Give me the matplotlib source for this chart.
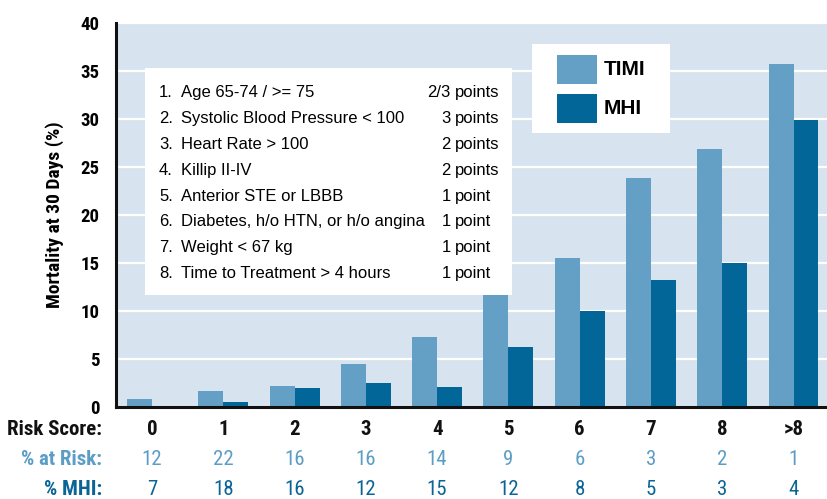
import numpy as np
import matplotlib
matplotlib.use("Agg")
import matplotlib.pyplot as plt
from matplotlib import font_manager
from matplotlib.patches import Rectangle
from matplotlib.transforms import blended_transform_factory

# data
risk_scores = ["0", "1", "2", "3", "4", "5", "6", "7", "8", ">8"]
timi_mortality = [0.8, 1.6, 2.2, 4.4, 7.3, 11.7, 15.5, 23.8, 26.8, 35.7]
mhi_mortality = [0.1, 0.5, 1.9, 2.5, 2.1, 6.2, 10.0, 13.2, 15.0, 29.9]
pct_at_risk = [12, 22, 16, 16, 14, 9, 6, 3, 2, 1]
pct_mhi = [7, 18, 16, 12, 15, 12, 8, 5, 3, 4]

risk_factors = [
    "Age 65-74 / >= 75",
    "Systolic Blood Pressure < 100",
    "Heart Rate > 100",
    "Killip II-IV",
    "Anterior STE or LBBB",
    "Diabetes, h/o HTN, or h/o angina",
    "Weight < 67 kg",
    "Time to Treatment > 4 hours",
]
factor_points = ["2/3", "3", "2", "2", "1", "1", "1", "1"]

TIMI_COLOR = "#64a0c5"
MHI_COLOR = "#036698"
BG = "#d7e3ee"

names = {f.name for f in font_manager.fontManager.ttflist}
NARROW = next((n for n in ["Roboto Condensed", "Archivo Narrow", "PT Sans Narrow",
                           "IBM Plex Sans Condensed", "Liberation Sans Narrow"]
               if n in names), "Liberation Sans")
REG = "Liberation Sans"

fig = plt.figure(figsize=(8.27, 4.99), dpi=100)
ax = fig.add_axes([0.1403, 0.185, 0.8597, 0.7695])
ax.set_facecolor(BG)

x = np.arange(len(risk_scores))
w = 0.35
ax.bar(x - w / 2, timi_mortality, w, color=TIMI_COLOR, zorder=2)
ax.bar(x + w / 2, mhi_mortality, w, color=MHI_COLOR, zorder=2)

ax.set_xlim(-0.505, 9.47)
ax.set_ylim(0, 40)
ax.set_yticks(range(0, 41, 5))
ax.yaxis.grid(True, color="white", lw=1.6, zorder=1)
ax.set_axisbelow(True)
ax.set_xticks([])
ax.tick_params(axis="y", length=0, pad=12)
for lab in ax.get_yticklabels():
    lab.set_fontfamily(NARROW)
    lab.set_fontweight("bold")
    lab.set_fontsize(13.5)
for s in ["top", "right"]:
    ax.spines[s].set_visible(False)
for s in ["left", "bottom"]:
    ax.spines[s].set_linewidth(2.2)
    ax.spines[s].set_color("#111111")
    ax.spines[s].set_zorder(3)

ax.set_ylabel("Mortality at 30 Days (%)", family=NARROW, fontweight="bold",
              fontsize=14, labelpad=12)

# risk factor box
ax.add_patch(Rectangle((0.0408, 0.291), 0.516, 0.591, transform=ax.transAxes,
                       facecolor="white", edgecolor="none", zorder=4))
for i, (fac, pts) in enumerate(zip(risk_factors, factor_points)):
    yy = (406.7 - 97 - 25.9 * i) / 384
    ax.text(0.0605, yy, f"{i + 1}.", transform=ax.transAxes, family=REG,
            fontsize=12, va="baseline", zorder=5)
    ax.text(0.0914, yy, fac, transform=ax.transAxes, family=REG,
            fontsize=12, va="baseline", zorder=5)
    ax.text(0.4705, yy, pts, transform=ax.transAxes, family=REG,
            fontsize=12, va="baseline", ha="right", zorder=5)
    ax.text(0.4765, yy, "point" if pts == "1" else "points",
            transform=ax.transAxes, family=REG, fontsize=12,
            va="baseline", zorder=5)

# legend box
ax.add_patch(Rectangle((0.585, 0.7128), 0.194, 0.2317, transform=ax.transAxes,
                       facecolor="white", edgecolor="none", zorder=4))
for (y0, col, lab) in [(0.8404, TIMI_COLOR, "TIMI"), (0.7388, MHI_COLOR, "MHI")]:
    ax.add_patch(Rectangle((0.620, y0), 0.0565, 0.0755, transform=ax.transAxes,
                           facecolor=col, edgecolor="none", zorder=5))
    ax.text(0.6864, y0 + 0.0378, lab, transform=ax.transAxes, family=REG,
            fontweight="bold", fontsize=15, va="center", zorder=5)

# table below the axis
trans = blended_transform_factory(ax.transData, ax.transAxes)
rows = [
    ("Risk Score:", risk_scores, "#111111", "bold", -0.0607),
    ("% at Risk:", pct_at_risk, "#5b9dc5", "normal", -0.1388),
    ("% MHI:", pct_mhi, "#0a6496", "normal", -0.2169),
]
for label, vals, col, wt, yy in rows:
    ax.text(-0.0197, yy, label, transform=ax.transAxes, ha="right", va="center",
            family=NARROW, fontweight="bold", fontsize=15, color=col)
    for xi, v in zip(x, vals):
        ax.text(xi, yy, str(v), transform=trans, ha="center", va="center",
                family=NARROW, fontweight=wt, fontsize=15, color=col)

fig.savefig("out.png", dpi=100)
